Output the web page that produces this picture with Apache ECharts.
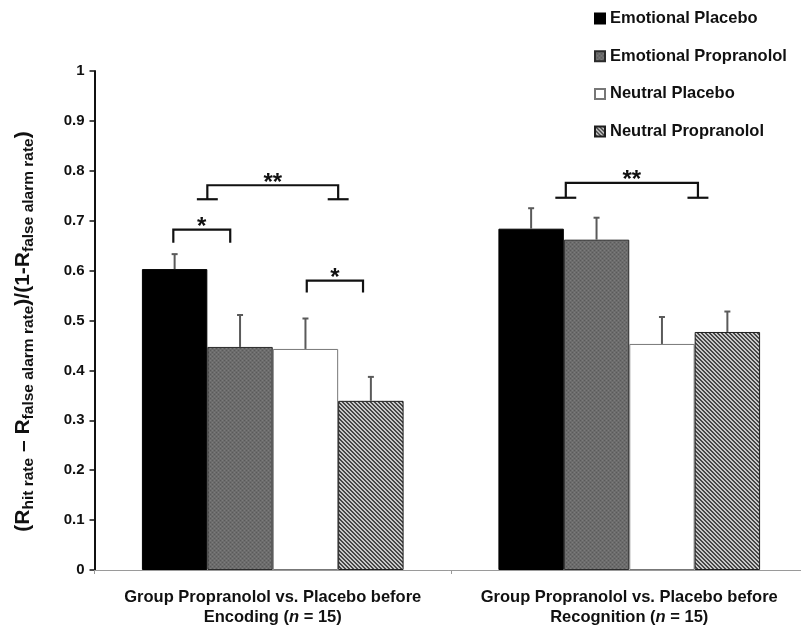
<!DOCTYPE html>
<html>
<head>
<meta charset="utf-8">
<script src="https://cdn.jsdelivr.net/npm/echarts@6/dist/echarts.min.js"></script>
<style>
html,body{margin:0;padding:0;background:#fff;}
#chart{width:801px;height:626px;}
</style>
</head>
<body>
<div id="chart"></div>
<script>
// ---- data ----
var catLine1 = ['Group Propranolol vs. Placebo before', 'Group Propranolol vs. Placebo before'];
var catLine2 = ['Encoding', 'Recognition'];
var catN = [15, 15];
var seriesNames = ['Emotional Placebo', 'Emotional Propranolol', 'Neutral Placebo', 'Neutral Propranolol'];
var emoPlacebo = [0.603, 0.684];
var emoPlaceboErr = [0.030, 0.041];
var emoPropranolol = [0.447, 0.662];
var emoPropranololErr = [0.064, 0.044];
var neuPlacebo = [0.443, 0.453];
var neuPlaceboErr = [0.061, 0.054];
var neuPropranolol = [0.339, 0.477];
var neuPropranololErr = [0.048, 0.041];
var yTicks = [0, 0.1, 0.2, 0.3, 0.4, 0.5, 0.6, 0.7, 0.8, 0.9, 1];
// significance brackets: category, from/to in bar units within group, top/bottom values, feet, label
var bracketCat = [0, 0, 0, 1];
var bracketFrom = [0.48, 2.52, 1.0, 1.03];
var bracketTo = [1.35, 3.38, 3.0, 3.05];
var bracketTop = [0.682, 0.580, 0.771, 0.776];
var bracketBottom = [0.656, 0.556, 0.743, 0.746];
var bracketFeet = [0, 0, 1, 1];
var bracketLabel = ['*', '*', '**', '**'];

var values = [emoPlacebo, emoPropranolol, neuPlacebo, neuPropranolol];
var errs = [emoPlaceboErr, emoPropranololErr, neuPlaceboErr, neuPropranololErr];

var CAT_GAP = 0.266;
var FONT = 'Liberation Sans, Arial, sans-serif';

function makeChecker() {
  var c = document.createElement('canvas');
  c.width = 4; c.height = 4;
  var g = c.getContext('2d');
  g.fillStyle = '#6c6c6c'; g.fillRect(0, 0, 4, 4);
  g.fillStyle = '#5a5a5a';
  g.fillRect(0, 0, 1, 1); g.fillRect(2, 2, 1, 1);
  g.fillStyle = '#7c7c7c';
  g.fillRect(2, 0, 1, 1); g.fillRect(0, 2, 1, 1);
  return c;
}
function makeHatch() {
  var n = 4;
  var c = document.createElement('canvas');
  c.width = n; c.height = n;
  var g = c.getContext('2d');
  g.fillStyle = '#c8c8c8'; g.fillRect(0, 0, n, n);
  g.fillStyle = '#474747';
  for (var y = 0; y < n; y++) {
    for (var x = 0; x < n; x++) {
      var d = ((x - y) % n + n) % n;
      if (d === 0 || d === 1) g.fillRect(x, y, 1, 1);
    }
  }
  return c;
}

var styles = [
  {color: '#000000', borderColor: '#000000', borderWidth: 1},
  {color: {image: makeChecker(), repeat: 'repeat'}, borderColor: '#2a2a2a', borderWidth: 1},
  {color: '#ffffff', borderColor: '#777777', borderWidth: 1},
  {color: {image: makeHatch(), repeat: 'repeat'}, borderColor: '#1e1e1e', borderWidth: 1}
];

var chart = echarts.init(document.getElementById('chart'), null, {renderer: 'canvas'});

function barX(api, cat, u) {
  var center = api.coord([cat, 0])[0];
  var band = api.size([1, 0])[0];
  var groupW = band * (1 - CAT_GAP);
  var barW = groupW / 4;
  return center - groupW / 2 + barW * u;
}

var series = [];
for (var s = 0; s < 4; s++) {
  series.push({
    name: seriesNames[s],
    type: 'bar',
    data: values[s],
    barGap: '0%',
    barCategoryGap: (CAT_GAP * 100) + '%',
    itemStyle: styles[s],
    z: 2
  });
}

var errData = [];
for (var s2 = 0; s2 < 4; s2++) {
  for (var c2 = 0; c2 < values[s2].length; c2++) {
    errData.push([c2, s2, values[s2][c2], errs[s2][c2]]);
  }
}
series.push({
  type: 'custom',
  name: 'err',
  data: errData,
  encode: {x: 0, y: 2},
  z: 5,
  silent: true,
  renderItem: function (params, api) {
    var cat = api.value(0), si = api.value(1), v = api.value(2), e = api.value(3);
    var x = barX(api, cat, si + 0.5);
    var yb = api.coord([cat, v])[1];
    var yt = api.coord([cat, v + e])[1];
    var st = {stroke: '#5a5a5a', lineWidth: 2};
    return {
      type: 'group',
      children: [
        {type: 'line', shape: {x1: x, y1: yb, x2: x, y2: yt}, style: st},
        {type: 'line', shape: {x1: x - 3, y1: yt, x2: x + 3, y2: yt}, style: st}
      ]
    };
  }
});

var brData = [];
for (var b = 0; b < bracketCat.length; b++) {
  brData.push([bracketCat[b], bracketFrom[b], bracketTo[b], bracketTop[b], bracketBottom[b], bracketFeet[b], b]);
}
series.push({
  type: 'custom',
  name: 'brackets',
  data: brData,
  encode: {x: 0, y: 3},
  z: 6,
  silent: true,
  renderItem: function (params, api) {
    var cat = api.value(0);
    var x1 = barX(api, cat, api.value(1));
    var x2 = barX(api, cat, api.value(2));
    var yt = api.coord([cat, api.value(3)])[1];
    var yb = api.coord([cat, api.value(4)])[1];
    var feet = api.value(5);
    var idx = api.value(6);
    var st = {stroke: '#111', lineWidth: 2.2, fill: null};
    var fw = api.size([1, 0])[0] * (1 - CAT_GAP) / 4 * 0.16;
    var children = [
      {type: 'polyline', shape: {points: [[x1, yb], [x1, yt], [x2, yt], [x2, yb]]}, style: st}
    ];
    if (feet) {
      children.push({type: 'line', shape: {x1: x1 - fw, y1: yb, x2: x1 + fw, y2: yb}, style: st});
      children.push({type: 'line', shape: {x1: x2 - fw, y1: yb, x2: x2 + fw, y2: yb}, style: st});
    }
    children.push({
      type: 'text',
      style: {
        text: bracketLabel[idx],
        x: (x1 + x2) / 2,
        y: yt - 2,
        align: 'center',
        verticalAlign: 'middle',
        font: 'bold 24px ' + FONT,
        fill: '#111'
      }
    });
    return {type: 'group', children: children};
  }
});

var option = {
  backgroundColor: '#ffffff',
  animation: false,
  legend: {
    data: seriesNames,
    orient: 'vertical',
    left: 589,
    top: 5,
    itemWidth: 10,
    itemHeight: 10,
    itemGap: 20.7,
    icon: 'rect',
    textStyle: {fontFamily: FONT, fontWeight: 'bold', fontSize: 16.5, color: '#111'},
    selectedMode: false
  },
  grid: {left: 94.5, top: 71, width: 713, bottom: 56, containLabel: false, outerBoundsMode: 'none'},
  xAxis: {
    type: 'category',
    data: catLine2,
    axisLine: {lineStyle: {color: '#9a9a9a', width: 1}},
    axisTick: {show: true, length: 4, lineStyle: {color: '#9a9a9a'}},
    axisLabel: {
      margin: 17,
      interval: 0,
      formatter: function (val, i) {
        return '{b|' + catLine1[i] + '}\n{b|' + catLine2[i] + ' (}{i|n}{b| = ' + catN[i] + ')}';
      },
      rich: {
        b: {fontFamily: FONT, fontWeight: 'bold', fontSize: 16.5, color: '#111', lineHeight: 20},
        i: {fontFamily: FONT, fontWeight: 'bold', fontStyle: 'italic', fontSize: 16.5, color: '#111', lineHeight: 20}
      }
    },
    splitLine: {show: false}
  },
  yAxis: {
    type: 'value',
    min: yTicks[0],
    max: yTicks[yTicks.length - 1],
    interval: 0.1,
    axisLine: {show: true, lineStyle: {color: '#111', width: 2}},
    axisTick: {show: true, length: 5, lineStyle: {color: '#111', width: 1.5}},
    axisLabel: {
      margin: 10,
      fontFamily: FONT, fontWeight: 'bold', fontSize: 15, color: '#111',
      formatter: function (v) { return String(Math.round(v * 10) / 10); }
    },
    splitLine: {show: false},
    name: '{p|(R}{s|hit rate}{p| – R}{s|false alarm rate}{p|)/(1-R}{s|false alarm rate}{p|)}',
    nameLocation: 'middle',
    nameRotate: 90,
    nameGap: 58,
    nameTextStyle: {
      padding: [0, 22, 0, 0],
      rich: {
        p: {fontFamily: FONT, fontWeight: 'bold', fontSize: 21, color: '#111', lineHeight: 27, verticalAlign: 'middle'},
        s: {fontFamily: FONT, fontWeight: 'bold', fontSize: 15.5, color: '#111', lineHeight: 15, verticalAlign: 'bottom'}
      }
    }
  },
  series: series
};
chart.setOption(option);
</script>
</body>
</html>
